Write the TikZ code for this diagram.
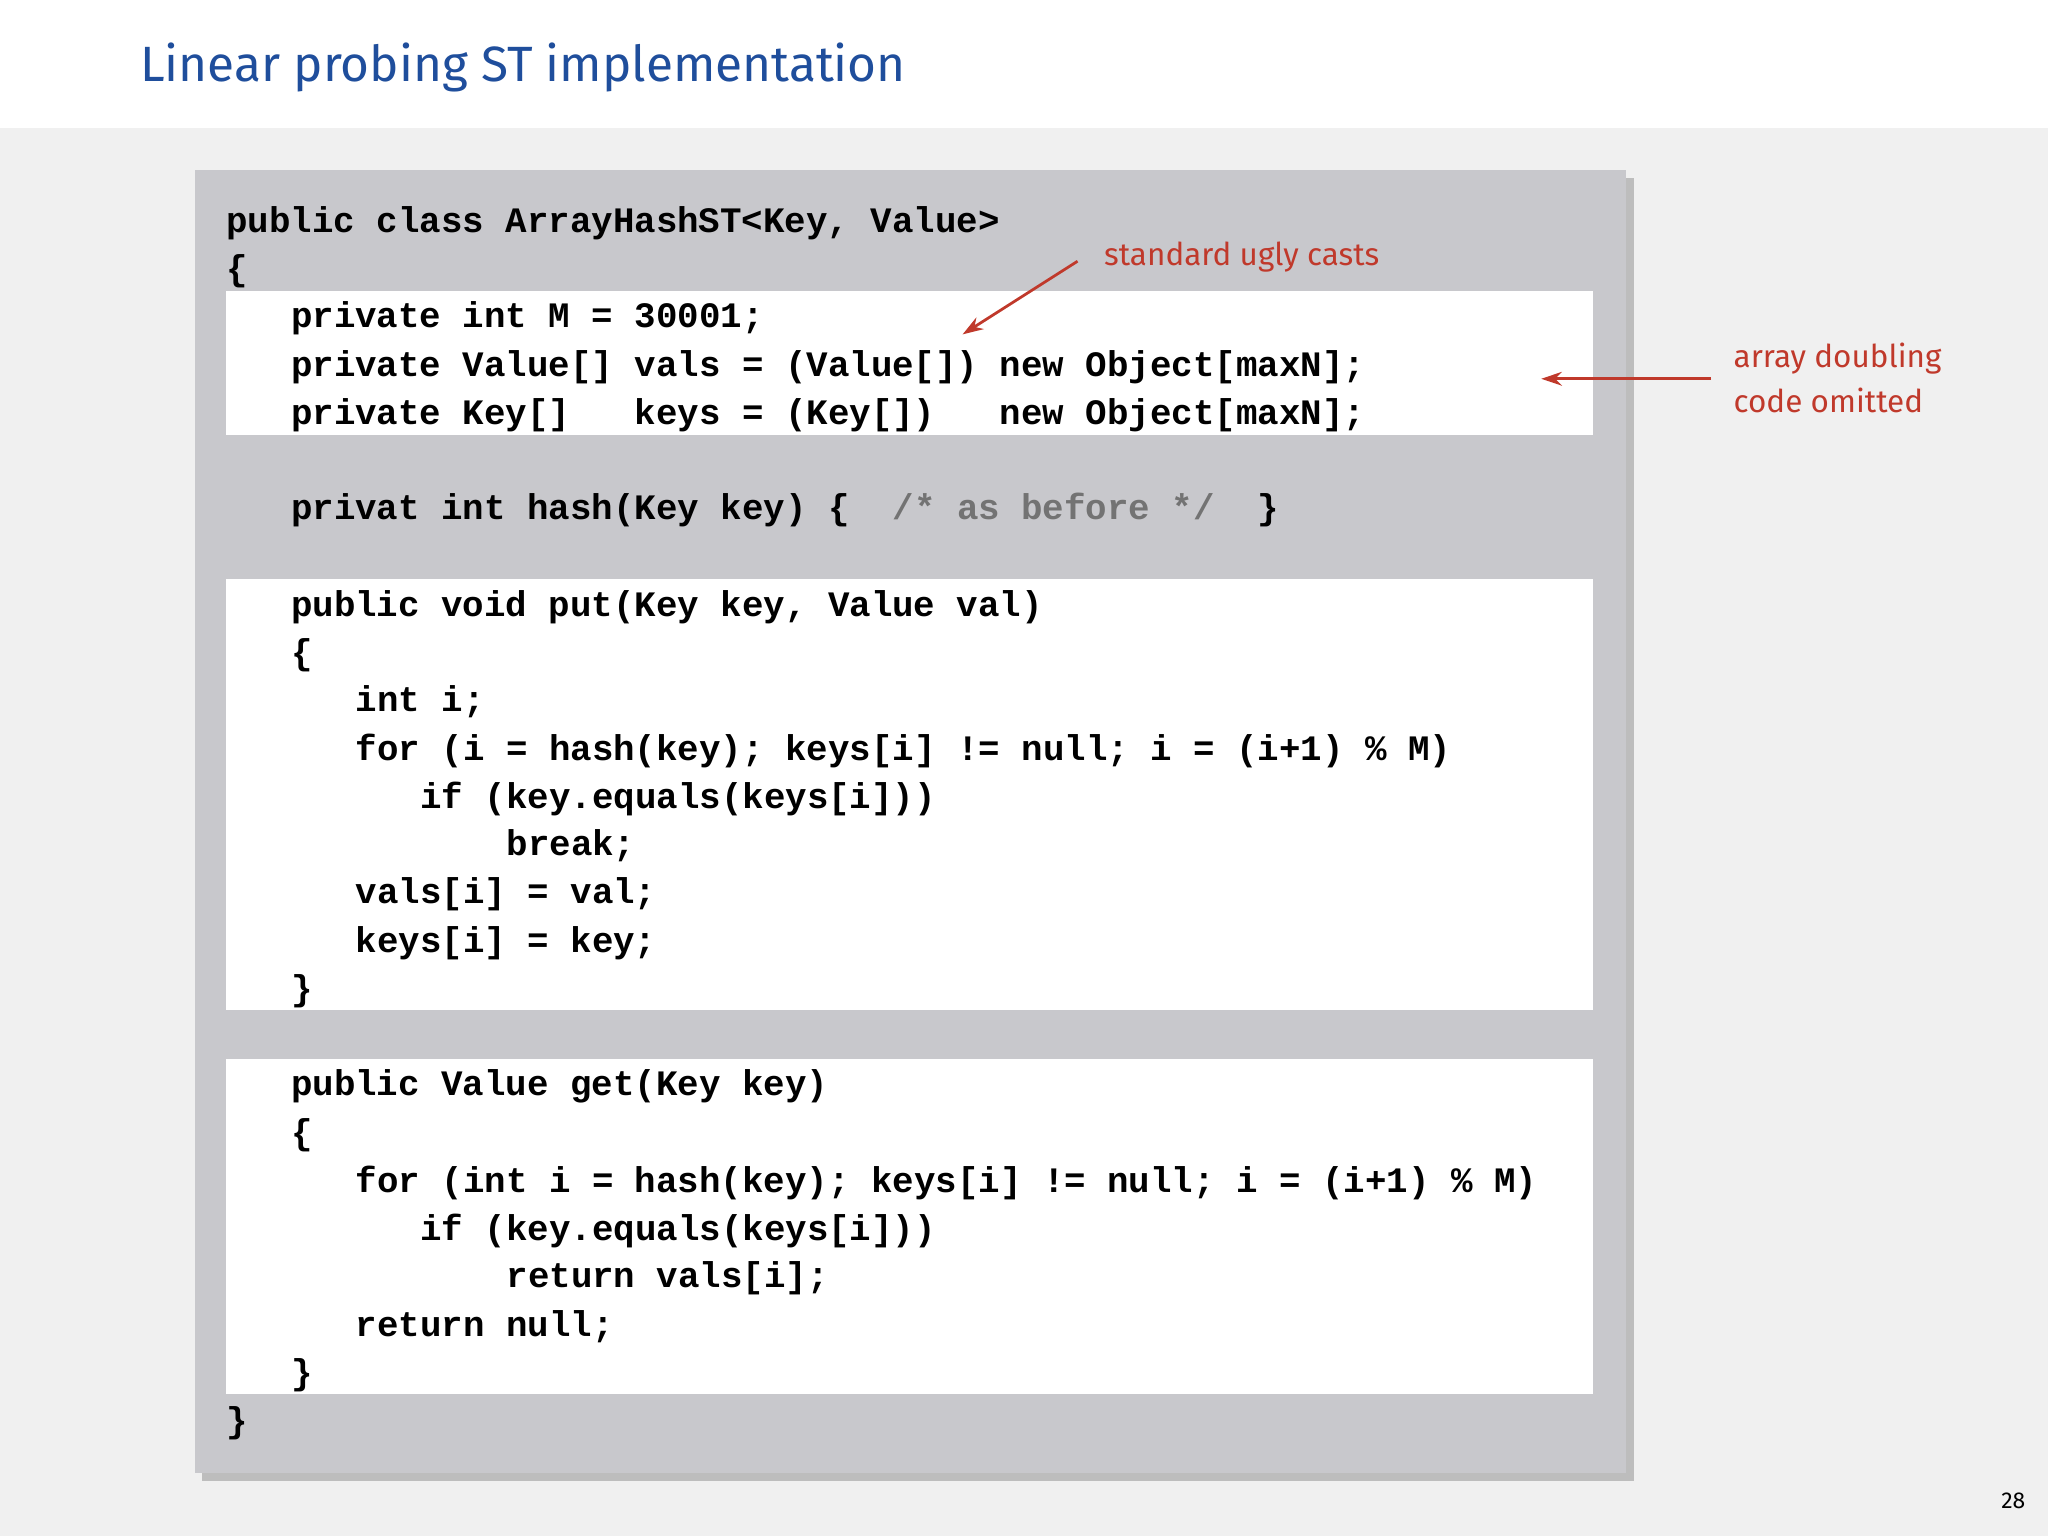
\documentclass[tikz,border=0pt]{standalone}
\usepackage{fontspec}
\setmainfont{Fira Sans}
\setmonofont{Liberation Mono}
\usetikzlibrary{arrows.meta,shadows}
\definecolor{titleblue}{HTML}{1F4E9C}
\definecolor{annred}{HTML}{C0392B}
\definecolor{boxgray}{HTML}{C8C8CC}
\definecolor{pagebg}{HTML}{F0F0F0}
\begin{document}
\begin{tikzpicture}[x=0.02cm,y=-0.02cm,
  code/.style={anchor=base west,inner sep=0pt,font=\fontsize{15.6}{18}\ttfamily\bfseries},
  ann/.style={text=annred,font=\fontsize{13.7}{16}\selectfont,inner sep=0pt},
  annarrow/.style={draw=annred,line width=1.2pt,-{Stealth[length=9pt,width=6pt]}}]
\useasboundingbox (0,0) rectangle (1568,1176);
\fill[white] (0,0) rectangle (1568,98);
\fill[pagebg] (0,98) rectangle (1568,1176);
\node[anchor=west,inner sep=0pt,text=titleblue,font=\fontsize{21.6}{24}\selectfont] (title) at (107,52) {Linear probing ST implementation};
\fill[black!45,opacity=0.5] (155,136) rectangle (1251,1134);
\fill[boxgray] (149,130) rectangle (1245,1128);
\fill[white] (173,223) rectangle (1220,333);
\fill[white] (173,443) rectangle (1220,773);
\fill[white] (173,811) rectangle (1220,1067);
\def\cw{16.5}
\newcommand\cl[4]{\node[code] (#1) at ({173+#2*\cw},{#3+8}) {#4};}
\cl{l1}{0}{170}{public class ArrayHashST<Key, Value>}
\cl{l2}{0}{207}{\{}
\cl{l3}{3}{243}{private int M = 30001;}
\cl{l4}{3}{280}{private Value[] vals = (Value[]) new Object[maxN];}
\cl{l5}{3}{317}{private Key[]\ \ \ keys = (Key[])\ \ \ new Object[maxN];}
\cl{l6}{3}{390}{privat int hash(Key key) \{\ \ \textcolor{black!55}{/* as before */}\ \ \}}
\cl{l7}{3}{464}{public void put(Key key, Value val)}
\cl{l8}{3}{501}{\{}
\cl{l9}{6}{537}{int i;}
\cl{l10}{6}{574}{for (i = hash(key); keys[i] != null; i = (i+1) \% M)}
\cl{l11}{9}{611}{if (key.equals(keys[i]))}
\cl{l12}{13}{647}{break;}
\cl{l13}{6}{684}{vals[i] = val;}
\cl{l14}{6}{721}{keys[i] = key;}
\cl{l15}{3}{758}{\}}
\cl{l16}{3}{831}{public Value get(Key key)}
\cl{l17}{3}{868}{\{}
\cl{l18}{6}{905}{for (int i = hash(key); keys[i] != null; i = (i+1) \% M)}
\cl{l19}{9}{942}{if (key.equals(keys[i]))}
\cl{l20}{13}{978}{return vals[i];}
\cl{l21}{6}{1015}{return null;}
\cl{l22}{3}{1052}{\}}
\cl{l23}{0}{1089}{\}}
\node[ann,anchor=west] (a1) at (845,197) {standard ugly casts};
\coordinate (a1s) at (825,200);
\coordinate (a1e) at (737,256);
\draw[annarrow] (a1s) -- (a1e);
\node[ann,anchor=north west,align=left,font=\fontsize{13.7}{19.8}\selectfont] (a2) at (1327,262) {array doubling\\code omitted};
\coordinate (a2s) at (1310,290);
\coordinate (a2e) at (1180,290);
\draw[annarrow] (a2s) -- (a2e);
\node[anchor=east,inner sep=0pt,font=\fontsize{10}{12}\selectfont] (pg) at (1551,1149) {28};
\end{tikzpicture}
\end{document}
